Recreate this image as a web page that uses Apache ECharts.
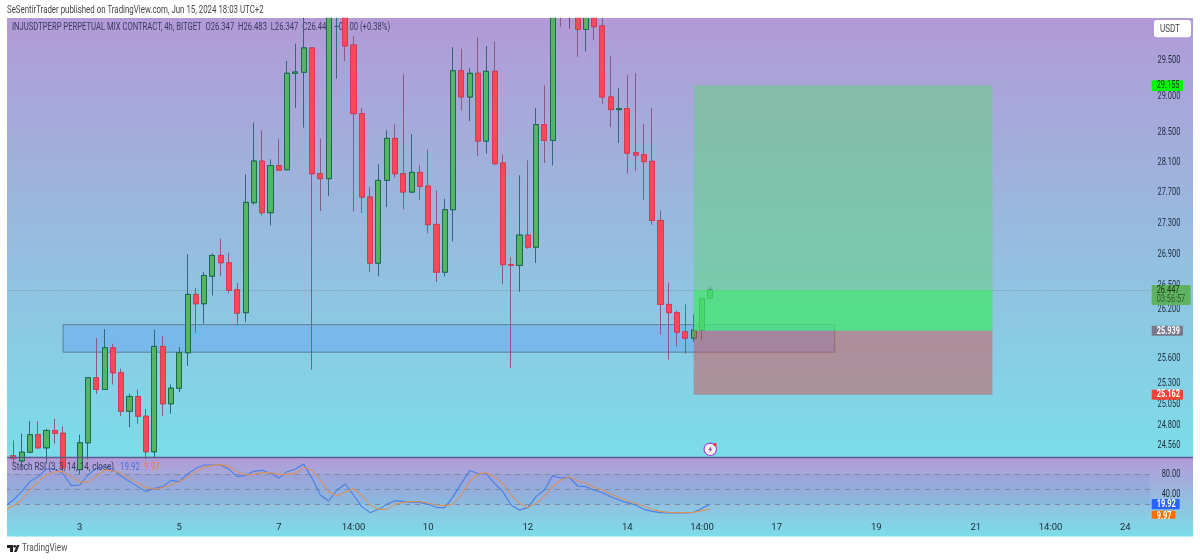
<!DOCTYPE html>
<html><head><meta charset="utf-8">
<style>html,body{margin:0;padding:0;background:#fff}#c{width:1200px;height:560px}</style>
<script src="https://cdn.jsdelivr.net/npm/echarts@6/dist/echarts.min.js"></script>
</head><body><div id="c"></div>
<script>
// OHLC per 4h bar (prices in USDT). Values above the visible top are estimates.
const opens=[24.40,24.44,24.38,24.482,24.686,24.533,24.736,24.704,24.30,24.28,24.592,25.365,25.224,25.730,25.425,24.965,25.140,24.905,24.487,25.746,25.053,25.239,25.669,26.392,26.275,26.622,26.886,26.793,26.451,26.163,27.570,28.122,27.439,28.060,28.006,29.322,29.336,29.678,27.953,27.887,30.55,30.9,29.719,28.764,27.644,26.788,27.864,28.427,27.953,27.710,27.970,27.788,27.286,26.673,27.478,29.357,28.993,29.322,28.391,29.350,28.095,26.768,26.759,27.147,26.992,28.613,28.400,30.5,30.3,30.6,29.94,30.3,29.99,28.993,28.819,28.833,28.234,28.208,28.118,27.338,26.266,26.163,25.927,25.848,25.947,26.347];
const highs=[24.41,24.619,24.697,24.846,24.846,24.756,24.874,24.783,24.36,24.686,25.365,25.848,25.959,25.779,25.474,25.172,25.224,24.993,25.952,25.869,25.284,25.738,26.899,26.471,26.673,26.912,27.101,26.921,26.534,27.944,28.640,28.536,28.144,28.423,29.494,29.740,30.3,29.678,28.423,30.9,31.1,31.0,29.844,28.841,27.775,28.077,28.536,28.617,29.308,28.482,28.073,28.274,27.732,27.622,29.690,29.667,29.390,29.834,29.706,29.767,28.211,26.864,27.931,28.131,28.841,29.155,30.7,30.7,30.8,30.7,30.5,30.4,30.15,29.56,29.113,29.302,29.322,28.627,28.841,27.469,26.539,26.191,26.266,26.141,26.35,26.483];
const lows=[24.38,24.35,24.30,24.471,24.52,24.35,24.580,24.25,24.2,24.22,24.40,25.172,25.224,25.284,24.905,24.775,24.815,24.40,24.42,24.905,24.934,25.192,25.510,25.915,26.026,26.379,26.622,26.408,26.005,26.046,27.544,27.404,27.273,28.001,28.006,28.841,28.573,25.462,27.460,27.657,29.248,29.494,27.456,27.434,26.673,26.619,27.512,27.900,27.482,27.700,27.609,27.173,26.547,26.619,27.066,28.809,28.662,28.189,28.221,28.068,26.518,25.483,26.425,26.972,26.788,28.095,28.064,29.98,29.95,29.55,29.63,29.787,28.892,28.581,28.364,27.953,27.988,27.609,27.282,25.892,25.584,25.746,25.657,25.799,25.82,26.347];
const closes=[24.39,24.41,24.482,24.686,24.533,24.736,24.704,24.30,24.28,24.592,25.365,25.224,25.730,25.425,24.965,25.140,24.905,24.487,25.746,25.053,25.239,25.669,26.392,26.275,26.631,26.886,26.793,26.442,26.158,27.574,28.122,27.439,28.060,28.001,29.322,29.340,29.678,27.953,27.887,30.55,30.9,29.706,28.764,27.644,26.788,27.864,28.427,27.953,27.710,27.970,27.785,27.282,26.673,27.478,29.357,28.993,29.322,28.391,29.350,28.087,26.768,26.759,27.147,26.992,28.613,28.400,30.5,30.3,30.6,29.94,30.3,29.98,28.993,28.819,28.833,28.229,28.202,28.114,27.338,26.266,26.163,25.922,25.848,25.947,26.337,26.447];
// Stoch RSI %K and %D
const stochK=[16,28,44.7,64.7,74.7,90,90,80,56.7,58,78,91.3,94.7,89.3,76,64.7,54.7,44.7,51.3,54.7,67.3,64.7,80,91.3,98,98,98,89.3,74.7,77.3,85.3,87.3,81.3,72,84.7,90,100,71.3,38,26,48,60,38,14.7,2.7,9.3,19.3,26.7,25.3,23.3,23.3,19.3,13.3,12.7,34.7,61.3,86.7,81.3,80,61.3,44.7,18,8,12.7,34.7,48,76.7,72,73.3,56,54.7,48,42.7,34.7,28,22.7,18,9.3,5.3,2.7,2,2,2,3.3,11.3,19.92];
const stochD=[8,16,28,48,64.7,78,84.7,84.7,74.7,64.7,63.3,74.7,88,86.7,81.3,71.3,61.3,53.3,50,52.7,58,64.7,73.3,84.7,93.3,96.7,98.7,94.7,84.7,78,79.3,82.7,82.7,79.3,79.3,81.3,93.3,88,68,44.7,36.7,43.3,51.3,36,18,9.3,9.3,19.3,23.3,24.7,24.7,22,18,16.7,20,38,64.7,80,82.7,74.7,61.3,38,21.3,12.7,21.3,34.7,54.7,68,74.7,66.7,61.3,53.3,48,40,33.3,26.7,21.3,16,9.3,5.3,3.3,2.7,2.7,3.3,6.7,9.97];
// Axis ticks
const tickBars=[9,21,33,42,51,63,75,84,93,105,117,126,135];
const tickLabels=['3','5','7','14:00','10','12','14','14:00','17','19','21','14:00','24'];
const priceTicks=[24.56,24.8,25.05,25.3,25.6,26.2,26.5,26.9,27.3,27.7,28.1,28.5,29,29.5];
const stochTicks=[80,40];
const stochLevels=[80,50,20];
// Long position tool and zone
const targetPrice=29.155, lastPrice=26.447, entryPrice=25.939, stopPrice=25.162;
const zoneTop=26.014, zoneBottom=25.676;
const countdown='03:56:57';
const stochLastK=19.92, stochLastD=9.97;

const NCAT=144;
const categories=new Array(NCAT).fill('');
tickBars.forEach((b,i)=>{categories[b]=tickLabels[i]});
const ohlc=opens.map((o,i)=>[o,closes[i],lows[i],highs[i]]);
const bodies=opens.map((o,i)=>[o,closes[i],Math.min(o,closes[i]),Math.max(o,closes[i])]);

const FONT='Roboto,"Open Sans",sans-serif';
const grad=()=>({type:'linear',x:0,y:0,x2:0,y2:1,colorStops:[{offset:0,color:'#b29ad7'},{offset:1,color:'#7bdde8'}]});
const AXIS_X=1180.3, TAG_X=1151.7, NARROW=0.74;

// Horizontally condensed text helper (the source uses a narrow face)
function label(x,y,text,fill,size,sx,extra){
  return Object.assign({type:'text',x:x,y:y,scaleX:sx,silent:true,
    style:{x:0,y:0,text:text,fill:fill,font:size+'px '+FONT,verticalAlign:'middle',align:'left'}},extra||{});
}
const priceTags=[
 {v:targetPrice,t:targetPrice.toFixed(3),bg:'#00f500',fg:'#1a3a1a',w:31.3,top:-5,h:10.7},
 {v:lastPrice,t:lastPrice.toFixed(3),t2:countdown,bg:'#5fb25f',fg:'#143214',w:39,top:-5,h:20},
 {v:entryPrice,t:entryPrice.toFixed(3),bg:'#78788a',fg:'#ffffff',w:31.3,top:-5,h:10,bold:true},
 {v:stopPrice,t:stopPrice.toFixed(3),bg:'#f44336',fg:'#ffffff',w:31.3,top:-5,h:10,bold:true}
];
const stochTags=[
 {v:stochLastK,t:stochLastK.toFixed(2),bg:'#2962ff',fg:'#ffffff',w:28,top:-5,h:10.3,bold:true},
 {v:stochLastD,t:stochLastD.toFixed(2),bg:'#ff6d00',fg:'#ffffff',w:23.8,top:1.7,h:8,bold:true}
];
function renderTag(tags){return function(params,api){
  const tag=tags[params.dataIndex];
  const y=api.coord([0,tag.v])[1];
  const f=(tag.bold?'bold ':'')+'10px '+FONT;
  const kids=[{type:'rect',shape:{x:TAG_X,y:y+tag.top,width:tag.w,height:tag.h,r:1},style:{fill:tag.bg}},
   {type:'text',x:TAG_X+5,y:y+tag.top+5.3,scaleX:NARROW,style:{x:0,y:0,text:tag.t,fill:tag.fg,font:f,verticalAlign:'middle',align:'left'}}];
  if(tag.t2)kids.push({type:'text',x:TAG_X+5,y:y+tag.top+14.5,scaleX:NARROW,style:{x:0,y:0,text:tag.t2,fill:'#2c5a2c',font:'10px '+FONT,verticalAlign:'middle',align:'left'}});
  return {type:'group',children:kids};
}}
function renderAxisText(vals,digits){return function(p,api){
  const v=vals[p.dataIndex];const y=api.coord([0,v])[1];
  return {type:'text',x:AXIS_X,y:y,scaleX:NARROW,style:{x:0,y:0,text:v.toFixed(digits),fill:'#1e2c3c',font:'10px '+FONT,align:'right',verticalAlign:'middle'}};
}}

const chart=echarts.init(document.getElementById('c'),null,{renderer:'canvas'});
chart.setOption({
 animation:false,
 graphic:{elements:[
  {type:'rect',z:0,silent:true,shape:{x:7,y:18,width:1186,height:439.5},style:{fill:grad()}},
  {type:'rect',z:0,silent:true,shape:{x:7,y:457.5,width:1186,height:79.3},style:{fill:grad()}},
  label(12,27,'INJUSDTPERP PERPETUAL MIX CONTRACT, 4h, BITGET  O26.347  H26.483  L26.347  C26.447  +0.100 (+0.38%)','#3a3a60',10,0.765,{z:1}),
  label(12,467.5,'Stoch RSI (3, 3, 14, 14, close)','#3a3a60',10,0.8,{z:6}),
  label(120,467.5,'19.92','#4a6fe0',10,0.8,{z:6}),
  label(144,467.5,'9.97','#e8803a',10,0.8,{z:6}),
  // page margins
  {type:'rect',z:50,silent:true,shape:{x:0,y:0,width:7,height:560},style:{fill:'#fff'}},
  {type:'rect',z:50,silent:true,shape:{x:1193,y:0,width:7,height:560},style:{fill:'#fff'}},
  {type:'rect',z:50,silent:true,shape:{x:0,y:536.8,width:1200,height:23.2},style:{fill:'#fff'}},
  {type:'rect',z:50,silent:true,shape:{x:0,y:0,width:1200,height:17.8},style:{fill:'#fff'}},
  {type:'line',z:51,silent:true,shape:{x1:7,y1:457.6,x2:1193,y2:457.6},style:{stroke:'#5f5a8e',lineWidth:1.5}},
  label(7,10,'SeSentirTrader published on TradingView.com, Jun 15, 2024 18:03 UTC+2','#444',10.5,0.75,{z:51}),
  label(22,548,'TradingView','#555',11,0.75,{z:51}),
  {type:'polygon',z:51,silent:true,shape:{points:[[7,545],[13,545],[13,552],[10,552],[10,548],[7,548]]},style:{fill:'#222'}},
  {type:'circle',z:51,silent:true,shape:{cx:14.7,cy:546.3,r:1.4},style:{fill:'#222'}},
  {type:'polygon',z:51,silent:true,shape:{points:[[17,545],[19.5,545],[16.5,552],[14,552]]},style:{fill:'#222'}},
  // USDT button
  {type:'rect',z:52,silent:true,shape:{x:1154,y:20,width:37,height:17.3,r:3},style:{fill:'#fff'}},
  label(1160,29,'USDT','#444',10,0.8,{z:53}),
  // lightning icon
  {type:'circle',z:30,silent:true,shape:{cx:710.3,cy:449.3,r:6.2},style:{fill:'#fff',stroke:'#b445cc',lineWidth:1.2}},
  {type:'polygon',z:31,silent:true,shape:{points:[[711.5,445.8],[708,450],[710,450],[709,453],[712.6,448.7],[710.6,448.7]]},style:{fill:'#8a4aa0'}},
  {type:'circle',z:31,silent:true,shape:{cx:715,cy:444.6,r:1.6},style:{fill:'#f0233f'}}
 ]},
 grid:[
  {left:0.85,width:1194.9,top:18,height:439.5},
  {left:0.85,width:1194.9,top:458,height:78.7}
 ],
 xAxis:[
  {type:'category',gridIndex:0,data:categories,show:false,boundaryGap:true},
  {type:'category',gridIndex:1,data:categories,boundaryGap:true,axisLine:{show:false},axisTick:{show:false},
   axisLabel:{interval:0,inside:true,margin:4,fontFamily:FONT,fontSize:9.5,color:'#1c2a38',hideOverlap:false}}
 ],
 yAxis:[
  {type:'log',logBase:Math.E,gridIndex:0,min:24.42,max:30.104,position:'right',axisLine:{show:false},axisTick:{show:false},splitLine:{show:false},axisLabel:{show:false}},
  {type:'value',gridIndex:1,min:-45.4,max:112,position:'right',axisLine:{show:false},axisTick:{show:false},splitLine:{show:false},axisLabel:{show:false}}
 ],
 series:[
  {type:'candlestick',xAxisIndex:0,yAxisIndex:0,data:[],z:1,silent:true,
   markArea:{silent:true,z:1,itemStyle:{color:'rgba(105,170,240,0.55)',borderColor:'#5f7f8f',borderWidth:1},
    data:[[{xAxis:7,yAxis:zoneTop},{xAxis:100,yAxis:zoneBottom}]]}},
  {type:'candlestick',name:'INJUSDT',xAxisIndex:0,yAxisIndex:0,data:ohlc,barWidth:5.6,z:2,silent:true,clip:true,
   itemStyle:{color:'#55b565',color0:'#f9485a',borderColor:'#35667a',borderColor0:'#8c5a7c',borderWidth:1},
   markLine:{silent:true,symbol:'none',label:{show:false},z:1,lineStyle:{type:'dotted',color:'#7a8a9a',width:0.7},
    data:[[{xAxis:0,yAxis:lastPrice},{xAxis:138,yAxis:lastPrice}]]}},
  {type:'candlestick',name:'INJUSDT bodies',xAxisIndex:0,yAxisIndex:0,data:bodies,barWidth:5.6,z:2,silent:true,clip:true,
   itemStyle:{color:'#55b565',color0:'#f9485a',borderColor:'#1b6b4a',borderColor0:'#d83a50',borderWidth:1}},
  {type:'candlestick',xAxisIndex:0,yAxisIndex:0,data:[],z:3,silent:true,
   markArea:{silent:true,z:3,label:{show:false},data:[
    [{xAxis:83,yAxis:targetPrice,itemStyle:{color:'rgba(98,209,122,0.5)'}},{xAxis:119,yAxis:entryPrice}],
    [{xAxis:83,yAxis:lastPrice,itemStyle:{color:'rgba(54,239,102,0.5)'}},{xAxis:119,yAxis:entryPrice}],
    [{xAxis:83,yAxis:entryPrice,itemStyle:{color:'rgba(209,81,82,0.5)'}},{xAxis:119,yAxis:stopPrice}]
   ]}},
  {type:'line',name:'K',xAxisIndex:1,yAxisIndex:1,data:stochK,showSymbol:false,silent:true,z:5,lineStyle:{color:'#4a7ee4',width:1.1},
   markArea:{silent:true,z:1,itemStyle:{color:'rgba(70,90,210,0.08)'},data:[[{xAxis:0,yAxis:80},{xAxis:138,yAxis:20}]]},
   markLine:{silent:true,symbol:'none',label:{show:false},lineStyle:{type:[5,5],color:'#7c8ca0',width:1},
    data:stochLevels.map(l=>[{xAxis:0,yAxis:l},{xAxis:138,yAxis:l}])}},
  {type:'line',name:'D',xAxisIndex:1,yAxisIndex:1,data:stochD,showSymbol:false,silent:true,z:6,lineStyle:{color:'#d8925f',width:1.1}},
  {type:'custom',name:'priceAxisLabels',xAxisIndex:0,yAxisIndex:0,silent:true,z:20,data:priceTicks.map(v=>[0,v]),renderItem:renderAxisText(priceTicks,3)},
  {type:'custom',name:'stochAxisLabels',xAxisIndex:1,yAxisIndex:1,silent:true,z:20,data:stochTicks.map(v=>[0,v]),renderItem:renderAxisText(stochTicks,2)},
  {type:'custom',name:'priceTags',xAxisIndex:0,yAxisIndex:0,silent:true,z:21,data:priceTags.map(t=>[0,t.v]),renderItem:renderTag(priceTags)},
  {type:'custom',name:'stochTags',xAxisIndex:1,yAxisIndex:1,silent:true,z:21,data:stochTags.map(t=>[0,t.v]),renderItem:renderTag(stochTags)}
 ]
});
</script></body></html>
